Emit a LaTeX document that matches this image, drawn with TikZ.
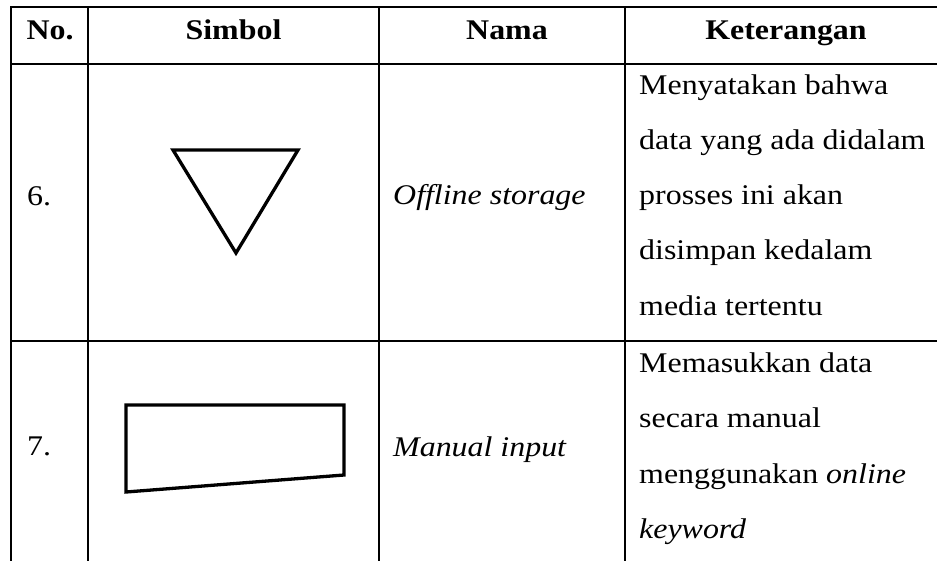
\documentclass[tikz,border=0pt]{standalone}
\usepackage{fontspec}
\setmainfont{Liberation Serif}[FakeStretch=1.12]
\begin{document}
\begin{tikzpicture}[x=1pt,y=1pt,
  grid/.style={line width=2.8pt, line cap=rect, line join=miter},
  shapeline/.style={line width=3.3pt, line join=miter},
  txt/.style={inner sep=0pt, font=\fontsize{28.5}{34}\selectfont},
  head/.style={txt, anchor=base, font=\fontsize{28.5}{34}\selectfont\bfseries},
  bodyl/.style={txt, anchor=base west}]
\useasboundingbox (0,0) rectangle (937,-560);
\begin{scope}
\clip (0,0) rectangle (937,-560);
% table frame and rules
\draw[grid] (11,-7) rectangle (960,-580);
\draw[grid] (11,-64) -- (960,-64);
\draw[grid] (11,-341) -- (960,-341);
\draw[grid] (88,-7) -- (88,-580);
\draw[grid] (379,-7) -- (379,-580);
\draw[grid] (625,-7) -- (625,-580);
\end{scope}
% headers
\node[head] (hno) at (50,-39) {No.};
\node[head] (hsim) at (233.5,-39) {Simbol};
\node[head] (hnama) at (507,-39) {Nama};
\node[head] (hket) at (786,-39) {Keterangan};
% row 6
\node[bodyl] (n6) at (27,-205) {6.};
\draw[shapeline] (173,-150) -- (298,-150) -- (236,-253) -- cycle;
\node[bodyl] (nm6) at (393,-204) {\itshape Offline storage};
\node[bodyl] (k6a) at (639,-94) {Menyatakan bahwa};
\node[bodyl] (k6b) at (639,-149) {data yang ada didalam};
\node[bodyl] (k6c) at (639,-204) {prosses ini akan};
\node[bodyl] (k6d) at (639,-259.5) {disimpan kedalam};
\node[bodyl] (k6e) at (639,-315) {media tertentu};
% row 7
\node[bodyl] (n7) at (27,-455) {7.};
\draw[shapeline] (126,-405) -- (344,-405) -- (344,-475) -- (126,-492) -- cycle;
\node[bodyl] (nm7) at (393,-456) {\itshape Manual input};
\node[bodyl] (k7a) at (639,-372) {Memasukkan data};
\node[bodyl] (k7b) at (639,-427.5) {secara manual};
\node[bodyl] (k7c) at (639,-483) {menggunakan \textit{online}};
\node[bodyl] (k7d) at (639,-538.5) {\textit{keyword}};
\end{tikzpicture}
\end{document}
